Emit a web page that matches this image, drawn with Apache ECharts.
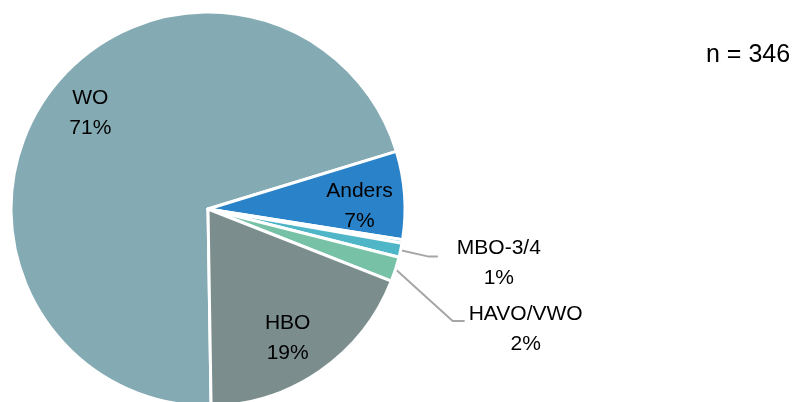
<!DOCTYPE html>
<html>
<head>
<meta charset="utf-8">
<script src="https://cdn.jsdelivr.net/npm/echarts@6/dist/echarts.min.js"></script>
<style>
  html, body { margin: 0; padding: 0; background: #fff; }
  #pie { width: 795px; height: 402px; }
</style>
</head>
<body>
<div id="pie"></div>
<script>
// opleiding respondenten (aantallen, n = 346)
var categories = ["WO", "Anders", "MBO-1/2", "MBO-3/4", "HAVO/VWO", "HBO"];
var counts = [244, 25, 1, 4, 7, 65];
var colors = ["#84aab4", "#2a82c8", "#5ec3d8", "#4fb6c8", "#77c2a6", "#7b8d8d"];
// labels die binnen de taart staan, de rest krijgt een lijntje
var insideLabels = ["WO", "Anders", "HBO"];
var total = 346;

var chart = echarts.init(document.getElementById("pie"));
var font = "'Liberation Sans', 'Open Sans', sans-serif";
var startAngle = -89.1;

function pct(p) {
  return Math.round(p.percent) + "%";
}

var baseData = categories.map(function (name, i) {
  var item = {
    name: name,
    value: counts[i],
    itemStyle: { color: colors[i] },
    label: { show: false },
    labelLine: { show: false },
  };
  if (name === "MBO-3/4") {
    item.label = { show: true, padding: [7, 0, -7, 0] };
    item.labelLine = { show: true, length: 30, length2: 9 };
  }
  if (name === "HAVO/VWO") {
    item.label = { show: true, padding: [8, 0, -8, 0] };
    item.labelLine = { show: true, length: 60, length2: 12 };
  }
  return item;
});

// tweede (onzichtbare) ring alleen voor de labels binnenin
var labelData = categories.map(function (name, i) {
  return {
    name: name,
    value: counts[i],
    label: { show: insideLabels.indexOf(name) >= 0 },
  };
});

var option = {
  animation: false,
  graphic: [
    {
      type: "text",
      left: 706,
      top: 43,
      style: {
        text: "n = " + total,
        font: "25px " + font,
        fill: "#000",
      },
    },
  ],
  series: [
    {
      type: "pie",
      center: [208, 209],
      radius: [0, 197],
      startAngle: startAngle,
      clockwise: true,
      avoidLabelOverlap: true,
      itemStyle: { borderColor: "#fff", borderWidth: 3 },
      label: {
        position: "outside",
        color: "#000",
        fontFamily: font,
        fontSize: 21,
        lineHeight: 30,
        formatter: function (p) {
          return "{a|" + p.name + "}\n{a|" + pct(p) + "}";
        },
        rich: {
          a: { width: 112, align: "center", fontSize: 21, fontFamily: font, color: "#000", lineHeight: 30 },
        },
      },
      labelLine: { lineStyle: { color: "#a6a6a6", width: 2 }, smooth: false },
      labelLayout: { hideOverlap: false },
      emphasis: { disabled: true },
      data: baseData,
    },
    {
      type: "pie",
      center: [208, 209],
      radius: [100, 197],
      startAngle: startAngle - 3,
      clockwise: true,
      silent: true,
      itemStyle: { color: "rgba(0,0,0,0)", borderWidth: 0 },
      label: {
        position: "inside",
        color: "#000",
        fontFamily: font,
        fontSize: 21,
        lineHeight: 30,
        formatter: function (p) {
          return p.name + "\n" + pct(p);
        },
      },
      labelLine: { show: false },
      emphasis: { disabled: true },
      data: labelData,
    },
  ],
};
chart.setOption(option);
</script>
</body>
</html>
